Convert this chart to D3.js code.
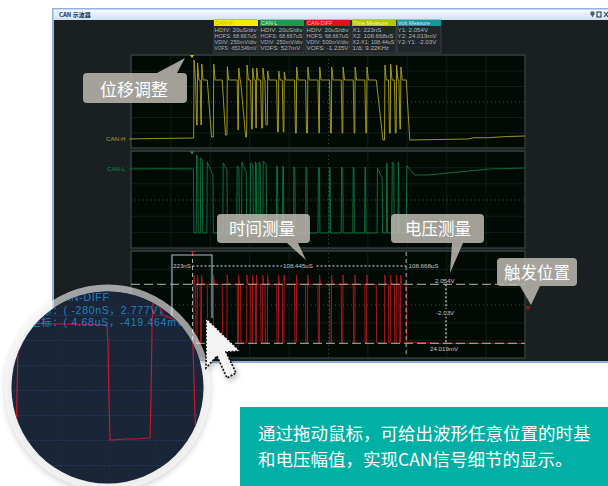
<!DOCTYPE html>
<html>
<head>
<meta charset="utf-8">
<script src="https://cdn.jsdelivr.net/npm/d3@7"></script>
<style>
html, body { margin: 0; padding: 0; background: #fff; overflow: hidden; }
svg { display: block; }
text { font-family: "Noto Sans CJK SC", "Liberation Sans", sans-serif; }
.mono { font-family: "Liberation Sans", "Noto Sans CJK SC", sans-serif; }
</style>
</head>
<body>
<script>
// edges of the CAN frame, uS after the trigger
const pulseRise = [0.8, 2.6, 4.7, 10.8, 17.7, 23.5, 27.7, 30.6, 32.6, 35.8, 38.2, 43.8, 46.6, 52.9, 58.6, 64.6, 70.7, 76.5, 82.6, 88.6, 97.7, 100.6, 103.6, 105.8];
const pulseFall = [1.8, 4.1, 7.7, 15.3, 22.9, 24.6, 29.7, 32.1, 34.8, 37, 42.9, 45.8, 52, 57.6, 63.9, 69.8, 75.7, 81.8, 87.7, 93.5, 99.7, 102.7, 105, 108.7];
const pulseSettle = [2.3, 4.5, 9.9, 17, 23.3, 27.2, 30.2, 32.4, 35.3, 37.5, 43.4, 46.3, 52.5, 58.1, 64.4, 70.3, 76.2, 82.3, 88.2, 96.9, 100.2, 103.2, 105.5, 110.5];

// CAN-H levels, mV above the panel floor
const canHPeak = [1760, 1700, 1680, 1680, 1626, 1600, 1660, 1600, 1600, 1600, 1540, 1540, 1520, 1620, 1620, 1620, 1620, 1620, 1620, 1620, 1660, 1680, 1660, 1620];
const canHLow = [460, 460, 220, 260, 360, 220, 380, 400, 400, 460, 320, 320, 300, 300, 300, 300, 300, 300, 300, 160, 300, 300, 380, 160];
const canHPlateau = 1360;
const canHLeadTime = [-32, -20, -8, 0.7];
const canHLeadLevel = [180, 190, 195, 200];
const canHTailTime = [125, 140, 143, 150, 160, 169];
const canHTailLevel = [170, 180, 205, 205, 230, 240];

// CAN-L edges and levels
const canLRise = [2.1, 4.2, 7.5, 15.6, 22.7, 25.1, 29.5, 32, 33.8, 35.9, 42.8, 45.9, 51.5, 57.6, 63.9, 69.5, 75.7, 81.6, 87.6, 93.9, 98.6, 101.4, 104.5];
const canLFall = [2.9, 5.2, 10.6, 17.7, 23.8, 27.5, 30.9, 32.6, 34.6, 37.7, 43.4, 46.4, 52.2, 58.3, 64.7, 70.1, 76.5, 82.2, 88.1, 96.5, 99, 102.4, 104.9];
const canLPeak = [1860, 1800, 1720, 1700, 1640, 1720, 1700, 1720, 1720, 1740, 1640, 1640, 1620, 1620, 1620, 1620, 1620, 1620, 1620, 1600, 1700, 1720, 1720];
const canLEnd = [1800, 1760, 1460, 1560, 1600, 1520, 1660, 1680, 1680, 1660, 1600, 1600, 1580, 1580, 1580, 1580, 1580, 1580, 1580, 1400, 1660, 1680, 1680];
const canLFloor = 300;
const canLLeadTime = [-32, -15, 0.7];
const canLLeadLevel = [1580, 1585, 1580];
const canLTailTime = [108.7, 109, 113, 120, 151, 169];
const canLTailLevel = [300, 1646, 1460, 1460, 1580, 1600];

// CAN-DIFF levels, mV
const diffPeak = 2374;
const diffPlateau = 2054;
const diffFloor = 34;
const diffTailTime = [110.5, 116, 125, 169];
const diffTailLevel = [60, 50, 24, 24];

// magnified pulse, uS and mV
const lensTime = [-10.78, -10.55, -10.43, -0.28, -0.16, -0.05, 0.07, 1.8, 2.95, 4.68, 4.79, 4.91, 5.03, 5.6, 6.18, 8.14, 9.52, 9.64, 9.87, 9.99];
const lensLevel = [-647, 1750, 2252, 2206, 1750, 494, -419, -396, -396, -374, 494, 2092, 2777, 2709, 2435, 2275, 2252, 1750, 151, -419];

// cursor readouts
const cursorX1 = 0.223;
const cursorX2 = 108.668;
const cursorY1 = 2054;
const cursorY2 = 24.019;

const boxTitles = ['CAN-H', 'CAN-L', 'CAN-DIFF', 'Time Measure', 'Volt Measure'];
const boxColors = ['#f6ea00', '#1c9a50', '#e2101e', '#b8c600', '#12979c'];
const boxTitleInk = ['#c8b800', '#d8f0d8', '#f0b0a0', '#f2f6c0', '#d0f0f0'];
const boxLeft = [214, 260, 306, 352, 397];
const boxLines = [
    ['HDIV: 20uS/div', 'HOFS: 68.667uS', 'VDIV: 250mV/div', 'VOFS: -653.546mV'],
    ['HDIV: 20uS/div', 'HOFS: 68.667uS', 'VDIV: 250mV/div', 'VOFS: 527mV'],
    ['HDIV: 20uS/div', 'HOFS: 68.667uS', 'VDIV: 500mV/div', 'VOFS: -1.235V'],
    ['X1: 223nS', 'X2: 108.668uS', 'X2-X1: 108.44uS', '1/Δ: 9.22KHz'],
    ['Y1: 2.054V', 'Y2: 24.019mV', 'Y2-Y1: -2.03V'],
];

const captionLines = ['通过拖动鼠标，可给出波形任意位置的时基', '和电压幅值，实现CAN信号细节的显示。'];
const lensLines = ['CAN-DIFF', '坐标：( -280nS，2.777V，', '坐标：( 4.68uS，-419.464mV'];

const PANEL_LEFT = 131, PANEL_RIGHT = 525;

const svg = d3.select('body').append('svg')
    .attr('width', 608)
    .attr('height', 486);

const defs = svg.append('defs');
const titleGrad = defs.append('linearGradient')
    .attr('id', 'titleGrad').attr('x1', 0).attr('x2', 0).attr('y1', 0).attr('y2', 1);
titleGrad.append('stop').attr('offset', 0).attr('stop-color', '#f6fbff');
titleGrad.append('stop').attr('offset', 1).attr('stop-color', '#cfe0f3');
defs.append('filter').attr('id', 'soft')
    .append('feGaussianBlur').attr('stdDeviation', 0.4);
defs.append('filter').attr('id', 'shadow')
    .attr('x', '-20%').attr('y', '-20%').attr('width', '140%').attr('height', '140%')
    .append('feGaussianBlur').attr('stdDeviation', 3);
defs.append('clipPath').attr('id', 'lensClip')
    .append('circle').attr('cx', 107.5).attr('cy', 387.5).attr('r', 96);

const scX = d3.scaleLinear().domain([-31, 169]).range([PANEL_LEFT, PANEL_RIGHT]);

function drawWindow()
{
    svg.append('rect')
        .attr('x', 52).attr('y', 8).attr('width', 570).attr('height', 355)
        .attr('fill', '#8fb2dc');
    svg.append('rect')
        .attr('x', 53.5).attr('y', 9.5).attr('width', 570).attr('height', 11)
        .attr('fill', 'url(#titleGrad)');
    svg.append('rect')
        .attr('x', 54).attr('y', 20).attr('width', 570).attr('height', 341)
        .attr('fill', '#1a1f22');
    svg.append('text')
        .attr('x', 59).attr('y', 16.5)
        .attr('font-size', 6).attr('font-weight', 700).attr('fill', '#1c3050')
        .text('CAN 示波器');
    // pin, maximise, close
    svg.append('path')
        .attr('d', 'M591 12h3v3h-3zM592.5 15v2')
        .attr('fill', '#4a5a70').attr('stroke', '#4a5a70');
    svg.append('rect')
        .attr('x', 597).attr('y', 12).attr('width', 4).attr('height', 5)
        .attr('fill', 'none').attr('stroke', '#3a4a60').attr('stroke-width', 1.2);
    svg.append('path')
        .attr('d', 'M604 12l4 5M608 12l-4 5')
        .attr('stroke', '#3a4a60').attr('stroke-width', 1.2);
}

function drawInfoBoxes()
{
    const boxes = svg.selectAll('g.box').data(boxTitles).enter().append('g')
        .attr('class', 'box')
        .attr('transform', (d, i) => `translate(${boxLeft[i]}, 20)`);
    boxes.append('rect')
        .attr('width', 44).attr('height', 33)
        .attr('fill', '#20262a').attr('stroke', '#4a5054').attr('stroke-width', 0.6);
    boxes.append('rect')
        .attr('width', 44).attr('height', 6)
        .attr('fill', (d, i) => boxColors[i]);
    boxes.append('text')
        .attr('class', 'mono')
        .attr('x', 1).attr('y', 5)
        .attr('font-size', 5.5)
        .attr('fill', (d, i) => boxTitleInk[i])
        .text(d => d);
    boxes.each(function(d, i) {
        d3.select(this)
            .selectAll('text.line').data(boxLines[i]).enter().append('text')
            .attr('class', 'mono line')
            .attr('x', 0.5)
            .attr('y', (line, j) => 11.5 + j * 6.2)
            .attr('font-size', 6.2)
            .attr('fill', '#b2b6b6')
            .text(line => line)
            .each(function() {
                // long readouts are shrunk to stay inside their box
                const length = this.getComputedTextLength();
                if (length > 42)
                    d3.select(this).attr('font-size', 6.2 * 42 / length);
            });
    });
}

// one oscilloscope panel: frame, 10 x 6 div grid, returns the y scale
function drawPanel(top, bottom, domain)
{
    const scY = d3.scaleLinear().domain(domain).range([bottom, top]);
    const width = PANEL_RIGHT - PANEL_LEFT;
    const height = bottom - top;
    const step = (domain[1] - domain[0]) / 6;
    const xDivs = d3.range(-31, 170, 20);
    const yDivs = d3.range(0, 7).map(i => domain[0] + i * step);
    svg.append('rect')
        .attr('x', PANEL_LEFT).attr('y', top)
        .attr('width', width).attr('height', height)
        .attr('fill', '#020a06');
    const gridX = svg.append('g')
        .attr('transform', `translate(0, ${bottom})`)
        .call(d3.axisBottom(scX).tickValues(xDivs).tickSize(-height).tickFormat(''));
    const gridY = svg.append('g')
        .attr('transform', `translate(${PANEL_LEFT}, 0)`)
        .call(d3.axisLeft(scY).tickValues(yDivs).tickSize(-width).tickFormat(''));
    [gridX, gridY].forEach(g => {
        g.select('.domain').remove();
        g.selectAll('line').attr('stroke', '#14231c').attr('stroke-width', 0.8);
    });
    gridX.selectAll('line').filter(d => d === 69)
        .attr('stroke', '#4a5a50').attr('stroke-dasharray', '1 3');
    gridY.selectAll('line').filter((d, i) => i === 3)
        .attr('stroke', '#4a5a50').attr('stroke-dasharray', '1 3');
    svg.append('rect')
        .attr('x', PANEL_LEFT).attr('y', top)
        .attr('width', width).attr('height', height)
        .attr('fill', 'none').attr('stroke', '#3d4444').attr('stroke-width', 1.2);
    return scY;
}

function drawTrace(time, level, scY, colour, width)
{
    const lineMaker = d3.line()
        .x(i => scX(time[i]))
        .y(i => scY(level[i]));
    svg.append('path')
        .attr('d', lineMaker(d3.range(time.length)))
        .attr('fill', 'none')
        .attr('stroke', colour)
        .attr('stroke-width', width)
        .attr('stroke-linejoin', 'round')
        .attr('filter', 'url(#soft)');
}

function drawCanH(scY)
{
    const time = [...canHLeadTime], level = [...canHLeadLevel];
    pulseRise.forEach((rise, i) => {
        const previous = i ? canHLow[i - 1] : 200;
        const held = Math.min(rise + 0.9, pulseFall[i] - 0.1);
        time.push(rise, rise + 0.2, held, pulseFall[i], pulseSettle[i]);
        level.push(previous, canHPeak[i], canHPlateau, canHPlateau, canHLow[i]);
    });
    drawTrace(time.concat(canHTailTime), level.concat(canHTailLevel), scY, '#b0a41e', 0.9);
}

function drawCanL(scY)
{
    const time = [...canLLeadTime, 0.9], level = [...canLLeadLevel, canLFloor];
    canLRise.forEach((rise, i) => {
        time.push(rise, rise + 0.2, canLFall[i], canLFall[i] + 0.2);
        level.push(canLFloor, canLPeak[i], canLEnd[i], canLFloor);
    });
    drawTrace(time.concat(canLTailTime), level.concat(canLTailLevel), scY, '#107c44', 0.85);
}

function drawDiff(scY)
{
    const time = [-32, 0.7], level = [diffFloor, diffFloor];
    pulseRise.forEach((rise, i) => {
        const held = Math.min(rise + 0.6, pulseFall[i] - 0.1);
        time.push(rise, rise + 0.1, held, pulseFall[i], pulseFall[i] + 0.2);
        level.push(diffFloor, diffPeak, diffPlateau, diffPlateau, diffFloor);
    });
    drawTrace(time.concat(diffTailTime), level.concat(diffTailLevel), scY, '#a81616', 1);
}

function label(x, y, content, colour='#c4c8c4', anchor='start')
{
    svg.append('text')
        .attr('class', 'mono')
        .attr('x', x).attr('y', y)
        .attr('font-size', 6.2)
        .attr('fill', colour)
        .attr('text-anchor', anchor)
        .text(content);
}

function drawCursors(scY)
{
    const x1 = scX(cursorX1), x2 = scX(cursorX2);
    const y1 = scY(cursorY1), y2 = scY(cursorY2);
    const dashed = (xa, ya, xb, yb, dash, colour, width) => svg.append('line')
        .attr('x1', xa).attr('y1', ya).attr('x2', xb).attr('y2', yb)
        .attr('stroke', colour).attr('stroke-width', width)
        .attr('stroke-dasharray', dash);
    dashed(PANEL_LEFT, y1, PANEL_RIGHT, y1, '9 4', '#b8b8ac', 1);
    dashed(PANEL_LEFT, y2, PANEL_RIGHT, y2, '9 4', '#b8b8ac', 1);
    dashed(x1, 252, x1, 357, '4 3', '#b0b0a8', 1);
    dashed(x2, 252, x2, 357, '4 3', '#b0b0a8', 1);
    dashed(x1, 266, x2, 266, '2 2', '#e8e8e8', 1);
    dashed(446, y1, 446, y2, '2 2', '#e8e8e8', 1.1);
    svg.append('rect').attr('x', 282).attr('y', 262).attr('width', 33).attr('height', 8).attr('fill', '#020a06');
    label(173, 268, '223nS');
    label(283, 268, '108.445uS');
    label(408.5, 268, '108.668uS');
    label(435, 282.5, '2.054V');
    svg.append('rect').attr('x', 435).attr('y', 309).attr('width', 22).attr('height', 8).attr('fill', '#020a06');
    label(436, 315, '-2.03V');
    label(430, 350.5, '24.019mV');
    // trigger markers
    svg.append('path').attr('d', 'M190 55h4l-2 3z').attr('fill', '#d8c820');
    svg.append('path').attr('d', 'M190 151.5h4l-2 3z').attr('fill', '#1c9a50');
    svg.append('path').attr('d', 'M190.5 251.5h4M192.5 251.5v4').attr('stroke', '#e02020').attr('stroke-width', 1.2);
    svg.append('path').attr('d', 'M526 307h4M528 307v3').attr('stroke', '#d02020').attr('stroke-width', 1);
    // selection drag box
    svg.append('path')
        .attr('d', 'M172 318V255H212V318')
        .attr('fill', 'none').attr('stroke', '#a4bccc').attr('stroke-width', 1.1);
}

function drawLens()
{
    svg.append('circle')
        .attr('cx', 107.5).attr('cy', 390).attr('r', 103)
        .attr('fill', '#000').attr('opacity', 0.16)
        .attr('filter', 'url(#shadow)');
    svg.append('circle')
        .attr('cx', 107.5).attr('cy', 387.5).attr('r', 99.5)
        .attr('fill', 'none')
        .attr('stroke', '#fff').attr('stroke-opacity', 0.6).attr('stroke-width', 7);
    const lens = svg.append('g').attr('clip-path', 'url(#lensClip)');
    lens.append('rect')
        .attr('x', 10).attr('y', 290).attr('width', 196).attr('height', 196)
        .attr('fill', '#1a2638');
    const scLensX = d3.scaleLinear().domain([-0.28, 4.68]).range([107, 150]);
    const scLensY = d3.scaleLinear().domain([-419, 2777]).range([440, 300]);
    const hLevels = d3.range(-1000, 3501, 570);
    const vTimes = d3.range(-11, 12, 5.5);
    lens.selectAll('line.h').data(hLevels).enter().append('line')
        .attr('x1', 10).attr('x2', 206)
        .attr('y1', d => scLensY(d)).attr('y2', d => scLensY(d))
        .attr('stroke', '#27406a').attr('stroke-width', 0.7)
        .attr('stroke-dasharray', '2 1');
    lens.selectAll('line.v').data(vTimes).enter().append('line')
        .attr('y1', 290).attr('y2', 486)
        .attr('x1', d => scLensX(d)).attr('x2', d => scLensX(d))
        .attr('stroke', '#223858').attr('stroke-width', 0.6)
        .attr('stroke-dasharray', '2 2');
    const lineMaker = d3.line()
        .x(i => scLensX(lensTime[i]))
        .y(i => scLensY(lensLevel[i]));
    lens.append('path')
        .attr('d', lineMaker(d3.range(lensTime.length)))
        .attr('fill', 'none')
        .attr('stroke', '#c41a2c').attr('stroke-width', 1.2);
    const lensX = [55, 30, 30];
    lens.selectAll('text').data(lensLines).enter().append('text')
        .attr('class', 'mono')
        .attr('x', (d, i) => lensX[i])
        .attr('y', (d, i) => 301 + i * 12.5)
        .attr('font-size', 10.5)
        .attr('letter-spacing', 0.7)
        .attr('fill', '#1c84c4')
        .text(d => d);
}

function drawArrow()
{
    const outline = 'M206 318V368L217 356L227 378L236 373L226 352L240 351Z';
    svg.append('path')
        .attr('d', outline)
        .attr('transform', 'translate(2, 3)')
        .attr('fill', '#000').attr('opacity', 0.3)
        .attr('filter', 'url(#shadow)');
    svg.append('path').attr('d', outline)
        .attr('fill', '#f4f4f4')
        .attr('stroke', '#111').attr('stroke-width', 1.6)
        .attr('stroke-dasharray', '2 1.5');
}

function callout(d, content, cx, cy, size)
{
    svg.append('path')
        .attr('d', d)
        .attr('fill', '#bcb8b0').attr('fill-opacity', 0.86);
    svg.append('text')
        .attr('x', cx).attr('y', cy)
        .attr('text-anchor', 'middle')
        .attr('dominant-baseline', 'central')
        .attr('font-size', size)
        .attr('fill', '#fff')
        .text(content);
}

function drawCaption()
{
    svg.append('rect')
        .attr('x', 240).attr('y', 407).attr('width', 368).attr('height', 79)
        .attr('fill', '#00b0a6');
    svg.selectAll('text.caption').data(captionLines).enter().append('text')
        .attr('class', 'caption')
        .attr('x', 258)
        .attr('y', (d, i) => 432 + i * 26)
        .attr('dominant-baseline', 'central')
        .attr('font-size', 17.5)
        .attr('fill', '#fff')
        .text(d => d);
}

function main()
{
    drawWindow();
    drawInfoBoxes();

    const scH = drawPanel(55, 148, [0, 1860]);
    const scL = drawPanel(151, 248, [0, 1940]);
    const scD = drawPanel(251, 358, [-482, 3199]);
    drawCanH(scH);
    drawCanL(scL);
    drawDiff(scD);
    label(106, 141, 'CAN-H', '#a8a030');
    label(107, 171, 'CAN-L', '#14894c');
    drawCursors(scD);

    drawLens();
    drawArrow();

    callout('M87 73H157L185 58L177 73H183Q187 73 187 77V99Q187 103 183 103H87Q83 103 83 99V77Q83 73 87 73Z', '位移调整', 134, 88, 17);
    callout('M221 214H306Q310 214 310 218V239Q310 243 306 243H298L306 260L287 243H221Q217 243 217 239V218Q217 214 221 214Z', '时间测量', 262, 228, 16.5);
    callout('M395 214H480Q484 214 484 218V239Q484 243 480 243H463L450 273L452 243H395Q391 243 391 239V218Q391 214 395 214Z', '电压测量', 438, 228, 16.5);
    callout('M501 258H573Q577 258 577 262V282Q577 286 573 286H540L531 305L520 286H501Q497 286 497 282V262Q497 258 501 258Z', '触发位置', 537, 272, 16.5);

    drawCaption();
}

main();
</script>
</body>
</html>
